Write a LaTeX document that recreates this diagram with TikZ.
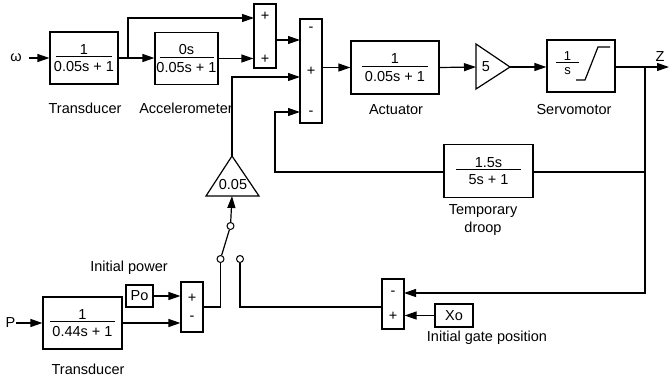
\documentclass[tikz,border=0pt]{standalone}
\usepackage{fontspec}
\setmainfont{Liberation Sans}
\usetikzlibrary{arrows.meta}
\newcommand\frc[3]{\vbox{\hbox to #1{\hss #2\hss}\kern2pt\hrule height 1pt\kern4.5pt\hbox to #1{\hss #3\hss}}}
\begin{document}
\begin{tikzpicture}[x=1pt,y=-1pt, line width=1.2pt, font=\fontsize{14.5}{18}\selectfont,
 blk/.style={draw, rectangle, inner sep=0pt},
 arr/.style={-{Triangle[length=12pt,width=8pt]}},
 sgn/.style={inner sep=0pt},
 lbl/.style={inner sep=0pt, align=center},
 sw/.style={draw, circle, fill=white, minimum size=7pt, inner sep=0pt, line width=1pt}]
\useasboundingbox (0,0) rectangle (670,383);
% blocks
\node[lbl] (om) at (16,58) {ω};
\node[blk, minimum width=68pt, minimum height=52pt] (tr1) at (84,58) {\frc{56pt}{1}{0.05s + 1}};
\node[blk, minimum width=63pt, minimum height=52pt] (acc) at (186.5,58.5) {\frc{54pt}{0s}{0.05s + 1}};
\node[blk, minimum width=22pt, minimum height=64pt] (s1) at (265,36) {};
\node[blk, minimum width=22pt, minimum height=104pt] (s2) at (311,71) {};
\node[blk, minimum width=88pt, minimum height=53pt] (act) at (395,67.5) {\frc{66pt}{1}{0.05s + 1}};
\node[blk, minimum width=68pt, minimum height=52pt] (servo) at (581,66) {};
\node[blk, minimum width=89pt, minimum height=53pt] (droop) at (488.5,171) {\frc{65pt}{1.5s}{5s + 1}};
\node[blk, minimum width=22pt, minimum height=50pt] (s3) at (192,307) {};
\node[blk, minimum width=22pt, minimum height=50pt] (s4) at (393,304) {};
\node[blk, minimum width=27pt, minimum height=22pt] (po) at (139.5,296) {Po};
\node[blk, minimum width=38pt, minimum height=23pt] (xo) at (454,315.5) {Xo};
\node[blk, minimum width=79pt, minimum height=52pt] (tr2) at (82.5,323) {\frc{65pt}{1}{0.44s + 1}};
\node[lbl] (p) at (10.5,323) {P};
% servomotor contents
\node[inner sep=0pt, font=\fontsize{13}{15}\selectfont] (servofr) at (567.5,63) {\frc{23pt}{1}{s}};
\draw (576,80) -- (585,80) -- (598,47) -- (610,47);
% gains
\draw (476,44) -- (510,67) -- (476,89) -- cycle;
\node[sgn] (g5) at (486,67) {5};
\coordinate (g5in) at (476,67);
\coordinate (g5out) at (510,67);
\draw (232,156) -- (259,196) -- (206,196) -- cycle;
\node[sgn] (g05) at (233,185) {0.05};
\coordinate (g05top) at (232,156);
\coordinate (g05bot) at (232,196);
% coordinates
\coordinate (b1) at (128,58);
\coordinate (s1a) at (254,18);
\coordinate (s2a) at (300,40);
\coordinate (s2b) at (300,77);
\coordinate (s2c) at (300,112);
\coordinate (dk) at (275,112);
\coordinate (bz) at (645,67);
\coordinate (zend) at (669,67);
\coordinate (bd) at (645,172);
\coordinate (s4a) at (404,293);
% connectors
\draw[arr, shorten <=7pt] (om.east) -- (tr1.west);
\draw[arr] (tr1.east) -- (tr1.east -| acc.west);
\draw[arr] (b1) |- (s1a);
\draw[arr] (acc.east) -- (acc.east -| s1.west);
\draw[arr] (s1.east |- s2a) -- (s2a);
\draw[arr] (s2.east |- act) -- (act.west);
\draw[arr] (act.east) -- (g5in);
\draw[arr] (g5out) -- (g5out -| servo.west);
\draw[arr] (servo.east |- bz) -- (zend);
\draw[arr] (bz) |- (s4a);
\draw (bd) -- (droop.east |- bd);
\draw[arr] (droop.west |- bd) -| (dk) -- (s2c);
\draw[arr] (g05top) |- (s2b);
\draw[arr] (po.east) -- (po.east -| s3.west);
\draw[arr] (tr2.east) -- (tr2.east -| s3.west);
\draw[arr] (p.east) -- (tr2.west);
\draw[arr] (xo.west) -- (xo.west -| s4.east);
% switch
\node[sw] (sw0) at (230.5,226) {};
\node[sw] (swa) at (220.5,259) {};
\node[sw] (swb) at (240,259) {};
\draw[arr] (sw0) -- (g05bot);
\draw (swa) -- (sw0);
\draw (s3.east) -| (swa);
\draw (s4.west |- s3) -| (swb);
% signs
\node[sgn] (s1p1) at (265,16) {+};
\node[sgn] (s1p2) at (265,59) {+};
\node[sgn] (s2m1) at (311,29) {-};
\node[sgn] (s2p1) at (311,71) {+};
\node[sgn] (s2m2) at (311,113) {-};
\node[sgn] (s3p) at (192,298) {+};
\node[sgn] (s3m) at (192,318) {-};
\node[sgn] (s4m) at (393,293) {-};
\node[sgn] (s4p) at (393,316) {+};
% labels
\node[lbl] (ltr1) at (85,108) {Transducer};
\node[lbl] (lacc) at (186,108) {Accelerometer};
\node[lbl] (lact) at (396,110) {Actuator};
\node[lbl] (lservo) at (574,110) {Servomotor};
\node[lbl] (ldroop) at (483,220) {Temporary\\droop};
\node[lbl] (lpo) at (129,268) {Initial power};
\node[lbl] (lxo) at (487,338) {Initial gate position};
\node[lbl] (ltr2) at (88,369) {Transducer};
\node[lbl] (lz) at (660,57) {Z};
\end{tikzpicture}
\end{document}
